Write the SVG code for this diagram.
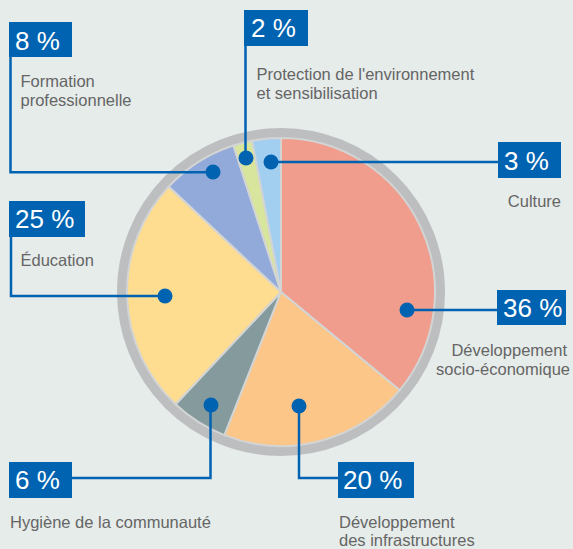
<svg xmlns="http://www.w3.org/2000/svg" width="573" height="549" viewBox="0 0 573 549">
<style>
.bg{fill:#e6ecea}
.slice{stroke:#d3d4d4;stroke-width:2;stroke-linejoin:round}
.box{fill:#0063b1}
.pct{font-family:"Liberation Sans",Arial,sans-serif;font-size:26px;fill:#ffffff}
.lbl{font-family:"Liberation Sans",Arial,sans-serif;font-size:16.5px;fill:#656565}
.conn{fill:none;stroke:#0063b1;stroke-width:2.5}
.dot{fill:#0063b1}
</style>
<rect class="bg" x="0" y="0" width="573" height="549"/>
<g id="pie">
<circle cx="281" cy="292" r="159" fill="none" stroke="#bdbec0" stroke-width="10"/>
<path class="slice" fill="#f09d8d" d="M281 292 L281 138 A154 154 0 0 1 399.66 390.16 Z"/>
<path class="slice" fill="#fdc689" d="M281 292 L399.66 390.16 A154 154 0 0 1 224.31 435.19 Z"/>
<path class="slice" fill="#849a9d" d="M281 292 L224.31 435.19 A154 154 0 0 1 175.59 404.27 Z"/>
<path class="slice" fill="#fedc90" d="M281 292 L175.59 404.27 A154 154 0 0 1 168.73 186.59 Z"/>
<path class="slice" fill="#91aad9" d="M281 292 L168.73 186.59 A154 154 0 0 1 233.41 145.53 Z"/>
<path class="slice" fill="#d8e69d" d="M281 292 L233.41 145.53 A154 154 0 0 1 252.14 140.72 Z"/>
<path class="slice" fill="#a2cef0" d="M281 292 L252.14 140.72 A154 154 0 0 1 281 138 Z"/>
</g>
<g id="connectors">
<path class="conn" d="M10.5 57 V172.3 H213"/>
<path class="conn" d="M245.5 46 V158"/>
<path class="conn" d="M271 162 H498"/>
<path class="conn" d="M11 237 V296 H165"/>
<path class="conn" d="M407 310 H497"/>
<path class="conn" d="M72 478 H210.5 V405"/>
<path class="conn" d="M299 406 V478 H338"/>
<circle class="dot" cx="213" cy="172" r="7.5"/>
<circle class="dot" cx="246" cy="158" r="7.5"/>
<circle class="dot" cx="271" cy="162" r="7.5"/>
<circle class="dot" cx="165" cy="296" r="7.5"/>
<circle class="dot" cx="407" cy="310" r="7.5"/>
<circle class="dot" cx="211" cy="405" r="7.5"/>
<circle class="dot" cx="299" cy="406" r="7.5"/>
</g>
<g id="n8">
<rect class="box" x="9" y="22" width="63" height="35"/>
<text class="pct" x="15" y="50">8 %</text>
<text class="lbl" x="20.5" y="87">Formation</text>
<text class="lbl" x="20.5" y="105.5">professionnelle</text>
</g>
<g id="n2">
<rect class="box" x="244" y="10" width="64" height="36"/>
<text class="pct" x="251" y="37">2 %</text>
<text class="lbl" x="256.5" y="80">Protection de l'environnement</text>
<text class="lbl" x="256.5" y="99">et sensibilisation</text>
</g>
<g id="n3">
<rect class="box" x="498" y="142" width="63" height="36"/>
<text class="pct" x="504" y="170">3 %</text>
<text class="lbl" x="561" y="207" text-anchor="end">Culture</text>
</g>
<g id="n25">
<rect class="box" x="9" y="201" width="76" height="36"/>
<text class="pct" x="15" y="228">25 %</text>
<text class="lbl" x="20.5" y="266">Éducation</text>
</g>
<g id="n36">
<rect class="box" x="497" y="290" width="69" height="35"/>
<text class="pct" x="503" y="317">36 %</text>
<text class="lbl" x="567" y="356" text-anchor="end">Développement</text>
<text class="lbl" x="570" y="374.5" text-anchor="end">socio-économique</text>
</g>
<g id="n6">
<rect class="box" x="9" y="462" width="63" height="36"/>
<text class="pct" x="15" y="489">6 %</text>
<text class="lbl" x="10" y="528">Hygiène de la communauté</text>
</g>
<g id="n20">
<rect class="box" x="338" y="462" width="76" height="36"/>
<text class="pct" x="343" y="489">20 %</text>
<text class="lbl" x="339" y="527.5">Développement</text>
<text class="lbl" x="339" y="546">des infrastructures</text>
</g>
</svg>
